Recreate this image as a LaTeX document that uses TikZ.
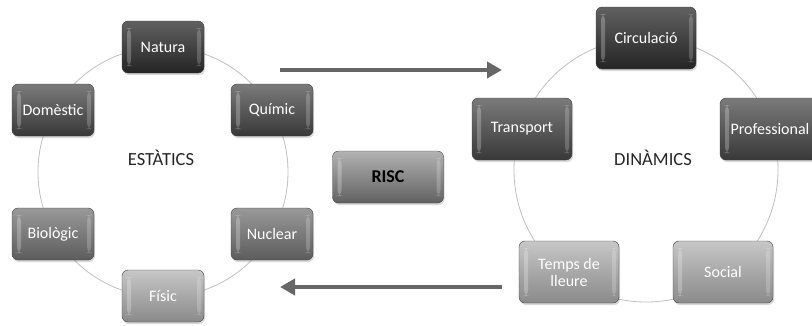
\documentclass[tikz,border=0pt]{standalone}
\usepackage{fontspec}
\setmainfont{Carlito}
\usetikzlibrary{arrows.meta,shadows}

\begin{document}
\begin{tikzpicture}[x=1pt,y=-1pt]

\useasboundingbox (0,0) rectangle (812,325);

\def\rleft{125}
\def\rright{132}

\tikzstyle{box}=[rectangle,rounded corners=6pt,draw=black!75,text=white,inner sep=2pt,align=center,
  font=\fontsize{16}{17}\selectfont,
  drop shadow={opacity=0.3,shadow xshift=1pt,shadow yshift=-2pt},
  path picture={\fill[white,opacity=0.25] ([xshift=5pt,yshift=-7pt]path picture bounding box.north west) rectangle ([xshift=9pt,yshift=7pt]path picture bounding box.south west);
    \fill[white,opacity=0.2] ([xshift=-7pt,yshift=-7pt]path picture bounding box.north east) rectangle ([xshift=-3pt,yshift=7pt]path picture bounding box.south east);}]
\tikzstyle{small}=[box,minimum width=82pt,minimum height=52pt]
\tikzstyle{big}=[box,minimum width=100pt,minimum height=62pt]
\tikzstyle{tone1}=[top color=black!62,bottom color=black!86]
\tikzstyle{tone2}=[top color=black!52,bottom color=black!78]
\tikzstyle{tone3}=[top color=black!40,bottom color=black!64]
\tikzstyle{tone4}=[top color=black!22,bottom color=black!46]
\tikzstyle{ring}=[draw=black!25,line width=0.8pt]
\tikzstyle{label}=[text=black!85,font=\fontsize{18.5}{20}\selectfont]
\tikzstyle{flow}=[draw=black!60,line width=4pt,-{Triangle[length=15pt,width=16pt]}]

%statics
\coordinate (cl) at (163,172);
\draw[ring] (cl) circle[radius=\rleft pt];
\node[label] (estatics) at (161,158) {ESTÀTICS};
\node[small,tone1] (natura) at (163,47) {Natura};
\node[small,tone2] (quimic) at (272,110) {Químic};
\node[small,tone3] (nuclear) at (272,234) {Nuclear};
\node[small,tone4] (fisic) at (163,296) {Físic};
\node[small,tone3] (biologic) at (53,234) {Biològic};
\node[small,tone2] (domestic) at (53,110) {Domèstic};

%dynamics
\coordinate (cr) at (646,170);
\draw[ring] (cr) circle[radius=\rright pt];
\node[label] (dinamics) at (653,158) {DINÀMICS};
\node[big,tone1] (circulacio) at (646,38) {Circulació};
\node[big,tone2] (professional) at (770,129) {Professional};
\node[big,tone4] (social) at (723,272) {Social};
\node[big,tone4] (lleure) at (569,272) {Temps de\\lleure};
\node[big,tone2] (transport) at (522,129) {Transport};

%risk
\node[box,top color=black!30,bottom color=black!62,text=black,minimum width=111pt,minimum height=52pt,
  font=\fontsize{18}{20}\selectfont\bfseries] (risc) at (388,177) {RISC};

%arrows
\coordinate (topfrom) at (280,70);
\coordinate (topto) at (502,70);
\coordinate (botfrom) at (502,287);
\coordinate (botto) at (280,287);
\draw[flow] (topfrom) -- (topto);
\draw[flow] (botfrom) -- (botto);

\end{tikzpicture}
\end{document}
